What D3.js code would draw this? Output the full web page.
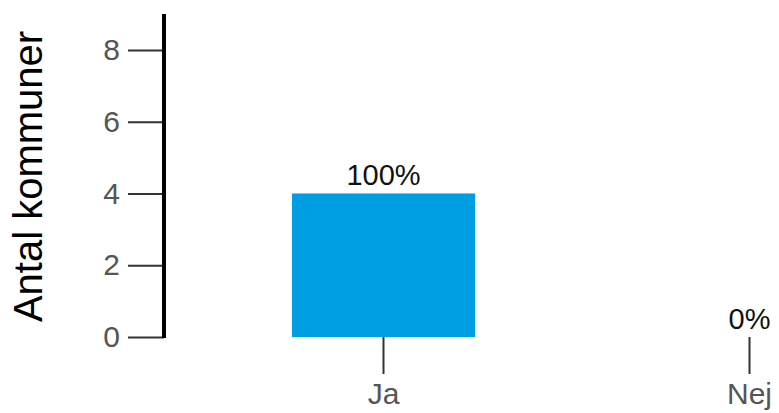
<!DOCTYPE html>
<html>
<head>
<meta charset="utf-8">
<script src="https://cdn.jsdelivr.net/npm/d3@7"></script>
<style>
  body { margin: 0; background: #fff; }
  text { font-family: "Liberation Sans", Arial, sans-serif; }
</style>
</head>
<body>
<div id="chart"></div>
<script>
// Data
var categories = ["Ja", "Nej"];
var counts = [4, 0];
var shareLabels = ["100%", "0%"];
var yTicks = [0, 2, 4, 6, 8];

// SVG area
var svgWidth = 779;
var svgHeight = 413;

var chartMargin = { top: 14, left: 164, bottom: 76 };
var chartHeight = svgHeight - chartMargin.top - chartMargin.bottom;

var svg = d3.select("#chart")
  .append("svg")
  .attr("width", svgWidth)
  .attr("height", svgHeight);

// Band scale runs past the right edge (chart is cropped there)
var xBandScale = d3.scaleBand()
  .domain(categories)
  .range([109, 1024])
  .padding(0.5);

var yLinearScale = d3.scaleLinear()
  .domain([0, 9])
  .range([chartMargin.top + chartHeight, chartMargin.top]);

var y0 = yLinearScale(0);

// Bars
svg.selectAll(".bar")
  .data(counts)
  .enter()
  .append("rect")
  .attr("class", "bar")
  .attr("x", (d, i) => xBandScale(categories[i]))
  .attr("y", d => yLinearScale(d))
  .attr("width", xBandScale.bandwidth())
  .attr("height", d => y0 - yLinearScale(d))
  .attr("fill", "#009fe3");

// Value labels
svg.selectAll(".valueLabel")
  .data(counts)
  .enter()
  .append("text")
  .attr("class", "valueLabel")
  .attr("x", (d, i) => xBandScale(categories[i]) + xBandScale.bandwidth() / 2)
  .attr("y", d => yLinearScale(d) - 8)
  .attr("text-anchor", "middle")
  .style("font-size", "29px")
  .style("fill", "#111")
  .text((d, i) => shareLabels[i]);

// Left axis
var leftAxis = d3.axisLeft(yLinearScale)
  .tickValues(yTicks)
  .tickSize(36)
  .tickPadding(8);

var yAxisG = svg.append("g")
  .attr("transform", `translate(${chartMargin.left}, 0)`)
  .call(leftAxis);

yAxisG.select(".domain").remove();
yAxisG.selectAll(".tick line")
  .attr("stroke", "#333")
  .attr("stroke-width", 2);
yAxisG.selectAll(".tick text")
  .style("font-size", "30px")
  .style("fill", "#555");

svg.append("line")
  .attr("x1", chartMargin.left)
  .attr("x2", chartMargin.left)
  .attr("y1", yLinearScale.range()[1])
  .attr("y2", y0 + 1)
  .attr("stroke", "#000")
  .attr("stroke-width", 4);

// Bottom axis (ticks only)
var bottomAxis = d3.axisBottom(xBandScale)
  .tickSize(37)
  .tickPadding(9);

var xAxisG = svg.append("g")
  .attr("transform", `translate(0, ${y0})`)
  .call(bottomAxis);

xAxisG.select(".domain").remove();
xAxisG.selectAll(".tick line")
  .attr("stroke", "#333")
  .attr("stroke-width", 2);
xAxisG.selectAll(".tick text")
  .style("font-size", "30px")
  .style("fill", "#555");

// Y axis title
svg.append("text")
  .attr("transform", `translate(42, ${yLinearScale(4.5) + 1}) rotate(-90)`)
  .attr("text-anchor", "middle")
  .style("font-size", "40px")
  .style("fill", "#000")
  .text("Antal kommuner");
</script>
</body>
</html>
